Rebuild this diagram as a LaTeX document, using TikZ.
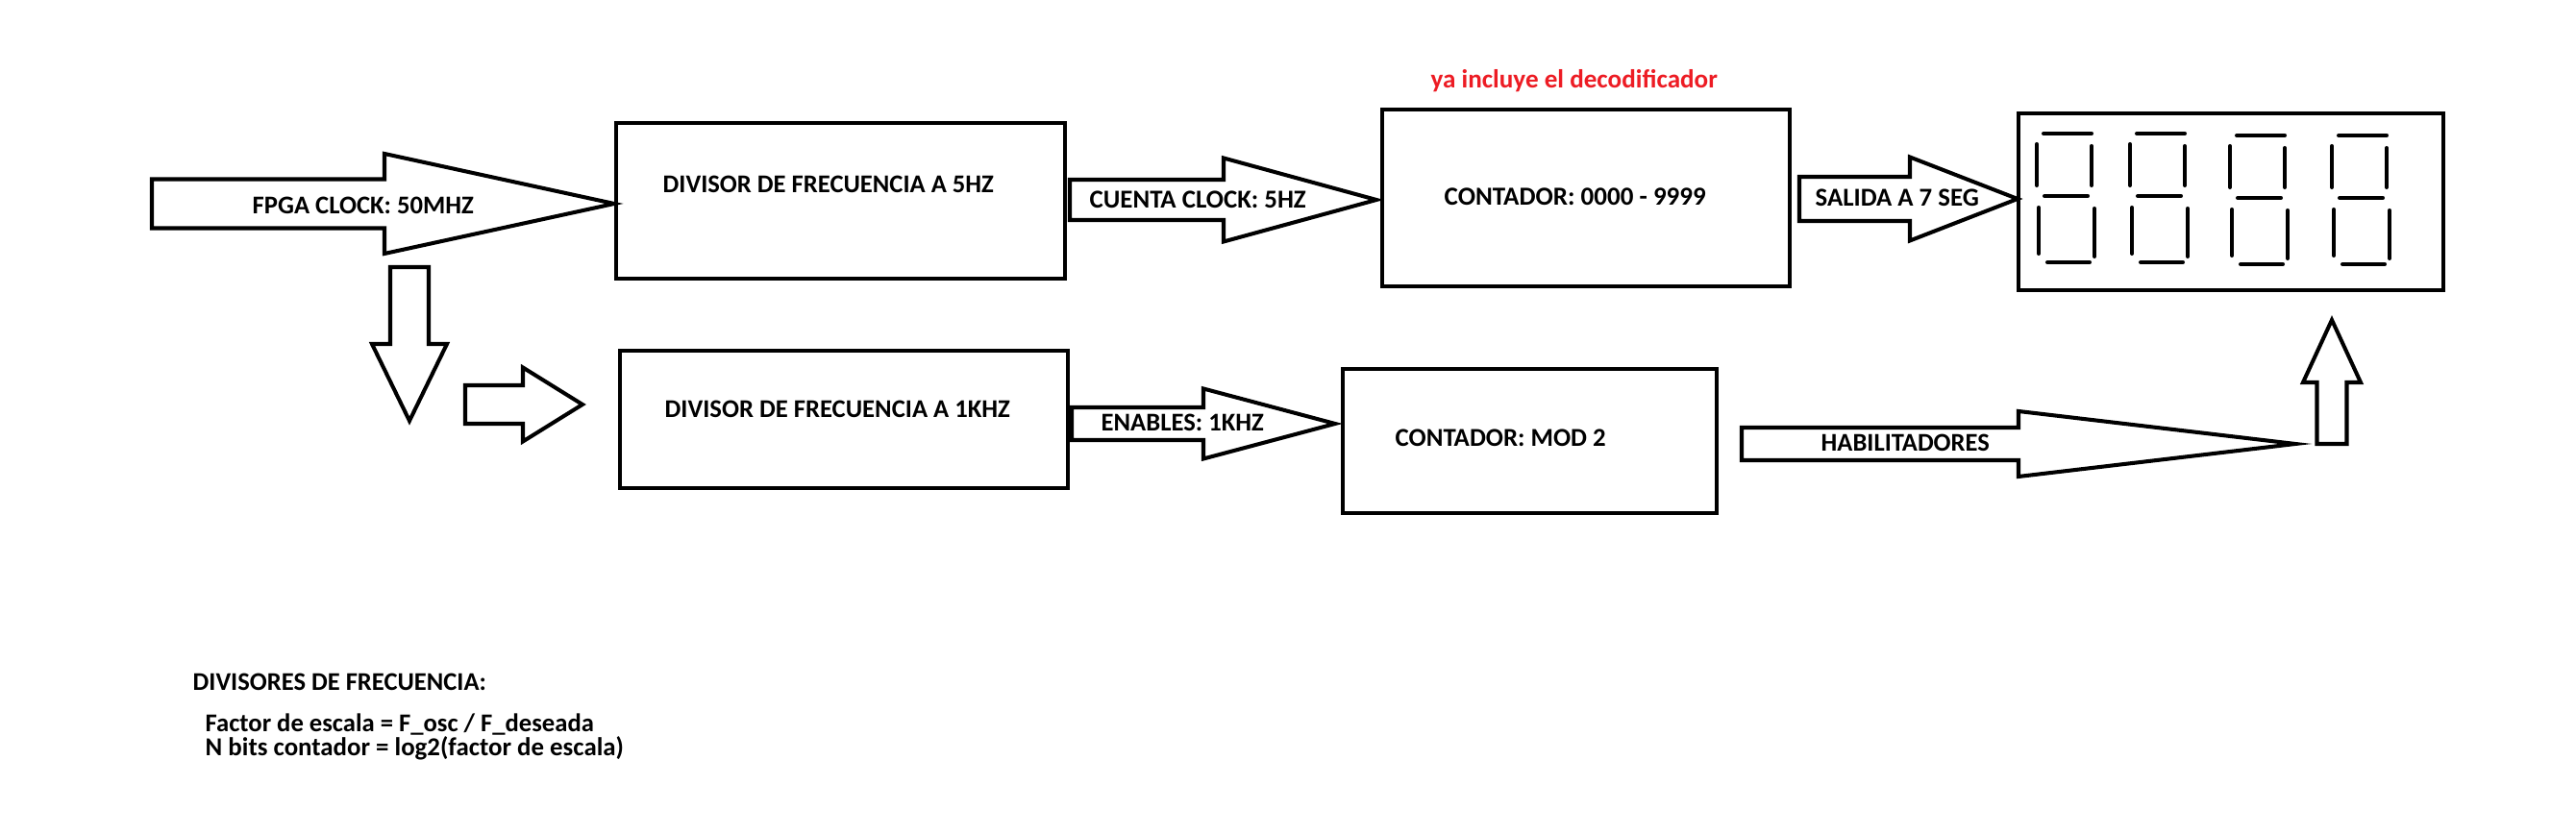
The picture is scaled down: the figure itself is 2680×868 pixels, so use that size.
\documentclass[tikz,border=0pt]{standalone}
\usepackage{fontspec}
\setmainfont{Carlito}
\usetikzlibrary{calc}
\definecolor{paintred}{RGB}{237,28,36}
\newcommand\harrow[5]{\draw[blk] ($(#1)+(0,-#3)$) -- ($(#2)+(#5,-#3)$) -- ($(#2)+(#5,-#4)$) -- (#2) -- ($(#2)+(#5,#4)$) -- ($(#2)+(#5,#3)$) -- ($(#1)+(0,#3)$) -- cycle;}
\newcommand\varrow[5]{\draw[blk] ($(#1)+(-#3,0)$) -- ($(#2)+(-#3,#5)$) -- ($(#2)+(-#4,#5)$) -- (#2) -- ($(#2)+(#4,#5)$) -- ($(#2)+(#3,#5)$) -- ($(#1)+(#3,0)$) -- cycle;}
\newcommand\sevenseg[2]{%
  \begin{scope}[shift={(#1,#2)}]
    \draw[seg] (7,0) -- (57,0);
    \draw[seg] (0,11) -- (0,54);
    \draw[seg] (57,13) -- (57,54);
    \draw[seg] (8,65) -- (53,65);
    \draw[seg] (2,77) -- (2,125);
    \draw[seg] (60,78) -- (60,128);
    \draw[seg] (11,134) -- (55,134);
  \end{scope}}
\tikzset{
  blk/.style={draw=black, line width=1.15pt, fill=white, line join=miter},
  boxst/.style={draw=black, line width=1.25pt, rectangle, inner sep=0pt, fill=white},
  lbl/.style={anchor=base west, inner sep=0pt, font=\fontsize{7.5}{9}\selectfont\bfseries},
  seg/.style={line width=1.15pt, line cap=round},
}
\begin{document}
\begin{tikzpicture}[x=0.01cm,y=-0.01cm]
\useasboundingbox[fill=white] (0,0) rectangle (2680,868);

% boxes
\node[boxst, minimum width=4.67cm, minimum height=1.62cm] (div5) at (874.5,209) {};
\node[boxst, minimum width=4.24cm, minimum height=1.84cm] (cnt) at (1650,206) {};
\node[boxst, minimum width=4.42cm, minimum height=1.84cm] (disp) at (2321,210) {};
\node[boxst, minimum width=4.66cm, minimum height=1.43cm] (div1k) at (878,436.5) {};
\node[boxst, minimum width=3.89cm, minimum height=1.50cm] (mod2) at (1591.5,459) {};

% arrow end points
\coordinate (fpgaS) at (158,212);   \coordinate (fpgaT) at (639,212);
\coordinate (cueS) at (1113,208);   \coordinate (cueT) at (1432,208);
\coordinate (salS) at (1872,207);   \coordinate (salT) at (2099,207);
\coordinate (dnS) at (426,278);     \coordinate (dnT) at (426,438);
\coordinate (smS) at (484,421);     \coordinate (smT) at (606,421);
\coordinate (enS) at (1115,441);    \coordinate (enT) at (1389,441);
\coordinate (habS) at (1812,462);   \coordinate (habT) at (2388,462);
\coordinate (upS) at (2426,462);    \coordinate (upT) at (2426,333);

% block arrows
\harrow{fpgaS}{fpgaT}{25.5}{52}{-239}
\harrow{cueS}{cueT}{21}{43.5}{-159}
\harrow{salS}{salT}{23}{43.5}{-112}
\varrow{dnS}{dnT}{20}{39}{-80}
\harrow{smS}{smT}{20}{38.5}{-62}
\harrow{enS}{enT}{17}{36.5}{-137}
\harrow{habS}{habT}{17}{34}{-288}
\varrow{upS}{upT}{15.5}{30}{65}

% seven segment digits
\sevenseg{2119}{139}
\sevenseg{2216}{139}
\sevenseg{2320}{141}
\sevenseg{2426}{141}

% labels
\node[lbl] (tfpga) at (262,223) {\resizebox{2.30cm}{!}{FPGA CLOCK: 50MHZ}};
\node[lbl] (tdiv5) at (689,201) {\resizebox{3.44cm}{!}{DIVISOR DE FRECUENCIA A 5HZ}};
\node[lbl] (tcue) at (1133,217) {\resizebox{2.25cm}{!}{CUENTA CLOCK: 5HZ}};
\node[lbl] (tcnt) at (1502,214) {\resizebox{2.72cm}{!}{CONTADOR: 0000 - 9999}};
\node[lbl] (tsal) at (1888,215) {\resizebox{1.70cm}{!}{SALIDA A 7 SEG}};
\node[lbl, text=paintred] (tred) at (1488,92) {\resizebox{2.98cm}{!}{ya incluye el decodificador}};
\node[lbl] (tdiv1k) at (691,435) {\resizebox{3.59cm}{!}{DIVISOR DE FRECUENCIA A 1KHZ}};
\node[lbl] (ten) at (1145,449) {\resizebox{1.69cm}{!}{ENABLES: 1KHZ}};
\node[lbl] (tmod) at (1451,465) {\resizebox{2.19cm}{!}{CONTADOR: MOD 2}};
\node[lbl] (thab) at (1894,470) {\resizebox{1.75cm}{!}{HABILITADORES}};
\node[lbl] (tn1) at (200,719) {\resizebox{3.05cm}{!}{DIVISORES DE FRECUENCIA:}};
\node[lbl] (tn2) at (213,762) {\resizebox{4.04cm}{!}{Factor de escala = F\_osc / F\_deseada}};
\node[lbl] (tn3) at (213,787) {\resizebox{4.35cm}{!}{N bits contador = log2(factor de escala)}};
\end{tikzpicture}
\end{document}
